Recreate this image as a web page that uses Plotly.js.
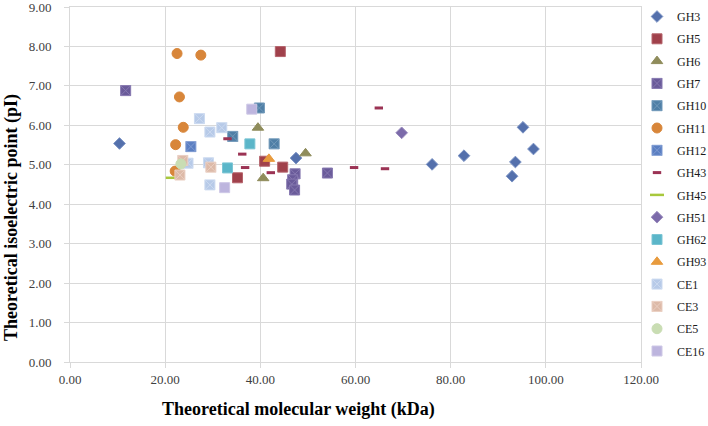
<!DOCTYPE html>
<html>
<head>
<meta charset="utf-8">
<script src="https://cdn.plot.ly/plotly-3.0.1.min.js"></script>
<style>
    body { margin: 0; background: #fff; }
    #plotDiv { width: 708px; height: 426px; }
</style>
</head>
<body>
<div id="plotDiv"></div>
<script>
// values (kDa, pI)
var gh3X = [10.4, 47.5, 76.1, 82.8, 95.2, 97.4, 93.6, 92.9];
var gh3Y = [5.54, 5.17, 5.01, 5.23, 5.95, 5.40, 5.07, 4.71];
var gh5X = [44.2, 40.9, 44.7, 35.2];
var gh5Y = [7.87, 5.09, 4.94, 4.67];
var gh6X = [39.5, 49.5, 40.6];
var gh6Y = [5.94, 5.29, 4.66];
var gh7X = [11.7, 47.3, 46.8, 46.6, 47.2, 54.1];
var gh7Y = [6.88, 4.77, 4.62, 4.51, 4.36, 4.79];
var gh10X = [39.8, 34.2, 42.9];
var gh10Y = [6.44, 5.72, 5.53];
var gh11X = [22.5, 27.5, 23.0, 23.8, 22.2, 22.1];
var gh11Y = [7.82, 7.78, 6.72, 5.95, 5.51, 4.84];
var gh12X = [25.4];
var gh12Y = [5.46];
var gh43X = [33.1, 36.2, 36.8, 42.2, 59.7, 64.9, 66.2];
var gh43Y = [5.66, 5.27, 4.93, 4.80, 4.93, 6.44, 4.90];
var gh45X = [21.6];
var gh45Y = [4.67];
var gh51X = [69.7];
var gh51Y = [5.81];
var gh62X = [37.8, 33.1];
var gh62Y = [5.53, 4.92];
var gh93X = [41.8];
var gh93Y = [5.15];
var ce1X = [27.2, 29.4, 31.9, 24.8, 29.1, 29.4];
var ce1Y = [6.17, 5.83, 5.94, 5.04, 5.05, 4.49];
var ce3X = [23.7, 29.6, 23.1];
var ce3Y = [5.11, 4.94, 4.74];
var ce5X = [23.3];
var ce5Y = [5.02];
var ce16X = [38.2, 32.5];
var ce16Y = [6.41, 4.42];

var seriesList = [
    {name: 'GH3',  x: gh3X,  y: gh3Y,  symbol: 'diamond',     size: 9,  color: '#5470AC', line: '#7B93C4'},
    {name: 'GH5',  x: gh5X,  y: gh5Y,  symbol: 'square',      size: 10, color: '#A0414B', line: '#B5646C'},
    {name: 'GH6',  x: gh6X,  y: gh6Y,  symbol: 'triangle-up', size: 10, color: '#8F8C5B', line: '#8F8C5B'},
    {name: 'GH7',  x: gh7X,  y: gh7Y,  symbol: 'square-x',    size: 10, color: '#6A5B9A', line: '#8678B0'},
    {name: 'GH10', x: gh10X, y: gh10Y, symbol: 'square-x',    size: 10, color: '#4F7FA6', line: '#7199BA'},
    {name: 'GH11', x: gh11X, y: gh11Y, symbol: 'circle',      size: 10, color: '#D8863A', line: '#D8863A'},
    {name: 'GH12', x: gh12X, y: gh12Y, symbol: 'square-x',    size: 10, color: '#5B7FC2', line: '#7F9BD2'},
    {name: 'GH43', x: gh43X, y: gh43Y, symbol: 'line-ew',     size: 6,  color: '#9B3354', line: '#9B3354', lw: 3},
    {name: 'GH45', x: gh45X, y: gh45Y, symbol: 'line-ew',     size: 10, color: '#A8C83C', line: '#A8C83C', lw: 2.5},
    {name: 'GH51', x: gh51X, y: gh51Y, symbol: 'diamond',     size: 9,  color: '#7C6BAA', line: '#9A8CBE'},
    {name: 'GH62', x: gh62X, y: gh62Y, symbol: 'square',      size: 10, color: '#5BB6C9', line: '#7CC5D4'},
    {name: 'GH93', x: gh93X, y: gh93Y, symbol: 'triangle-up', size: 10, color: '#E89B3E', line: '#E89B3E'},
    {name: 'CE1',  x: ce1X,  y: ce1Y,  symbol: 'square-x',    size: 10, color: '#B7CAE8', line: '#CCDAF0'},
    {name: 'CE3',  x: ce3X,  y: ce3Y,  symbol: 'square-x',    size: 10, color: '#DDBAA8', line: '#EACFC2'},
    {name: 'CE5',  x: ce5X,  y: ce5Y,  symbol: 'circle',      size: 10, color: '#C9DDB3', line: '#C9DDB3'},
    {name: 'CE16', x: ce16X, y: ce16Y, symbol: 'square',      size: 10, color: '#BDB5DE', line: '#CEC8E6'}
];

function buildTraces() {
    return seriesList.map(function (s, i) {
        return {
            x: s.x,
            y: s.y,
            name: s.name,
            type: 'scatter',
            mode: 'markers',
            legendgroup: 'g' + i,
            marker: {
                symbol: s.symbol,
                size: s.size,
                color: s.color,
                line: {color: s.line, width: s.lw || 1}
            }
        };
    });
}

function initializePlotDiv() {
    var plotDiv = document.getElementById('plotDiv');
    var tickFont = {family: 'Liberation Serif, Times New Roman, serif', size: 13, color: '#404040'};
    var titleFont = {family: 'Liberation Serif, Times New Roman, serif', size: 18, color: '#000000', weight: 'bold'};

    var layoutOpt = {
        width: 708,
        height: 426,
        paper_bgcolor: '#ffffff',
        plot_bgcolor: '#ffffff',
        showlegend: true,
        margin: {l: 70, r: 67, t: 7, b: 64, pad: 0, autoexpand: false},
        xaxis: {
            range: [0, 120],
            dtick: 20,
            tickformat: '.2f',
            showgrid: true,
            gridcolor: '#D9D9D9',
            zeroline: false,
            showline: true,
            mirror: true,
            linecolor: '#D9D9D9',
            ticks: 'outside',
            ticklen: 5,
            tickcolor: '#D9D9D9',
            tickfont: tickFont,
            ticklabeloverflow: 'allow',
            fixedrange: true
        },
        yaxis: {
            range: [0, 9],
            dtick: 1,
            tickformat: '.2f',
            showgrid: true,
            gridcolor: '#D9D9D9',
            zeroline: false,
            showline: true,
            mirror: true,
            linecolor: '#D9D9D9',
            ticks: 'outside',
            ticklen: 5,
            tickcolor: '#D9D9D9',
            ticklabelstandoff: 10,
            tickfont: tickFont,
            ticklabeloverflow: 'allow',
            fixedrange: true
        },
        legend: {
            xref: 'container',
            yref: 'container',
            x: 642 / 708,
            xanchor: 'left',
            y: 1 - 2 / 426,
            yanchor: 'top',
            maxheight: 1,
            font: {family: 'Liberation Serif, Times New Roman, serif', size: 12, color: '#1a1a1a'},
            traceorder: 'grouped',
            tracegroupgap: 3.3,
            itemwidth: 30,
            indentation: -5,
            bgcolor: 'rgba(0,0,0,0)'
        },
        annotations: [
            {
                text: 'Theoretical molecular weight (kDa)',
                xref: 'paper', yref: 'paper',
                x: (298 - 70) / 571, y: -(409 - 362) / 355,
                xanchor: 'center', yanchor: 'middle',
                showarrow: false,
                font: titleFont
            },
            {
                text: 'Theoretical isoelectric point (pI)',
                xref: 'paper', yref: 'paper',
                x: -(70 - 11) / 571, y: (362 - 218) / 355,
                xanchor: 'center', yanchor: 'middle',
                textangle: -90,
                showarrow: false,
                font: titleFont
            }
        ]
    };
    Plotly.newPlot(plotDiv, buildTraces(), layoutOpt, {displayModeBar: false, staticPlot: true});
}

window.onload = function () {
    initializePlotDiv();
};
</script>
</body>
</html>
